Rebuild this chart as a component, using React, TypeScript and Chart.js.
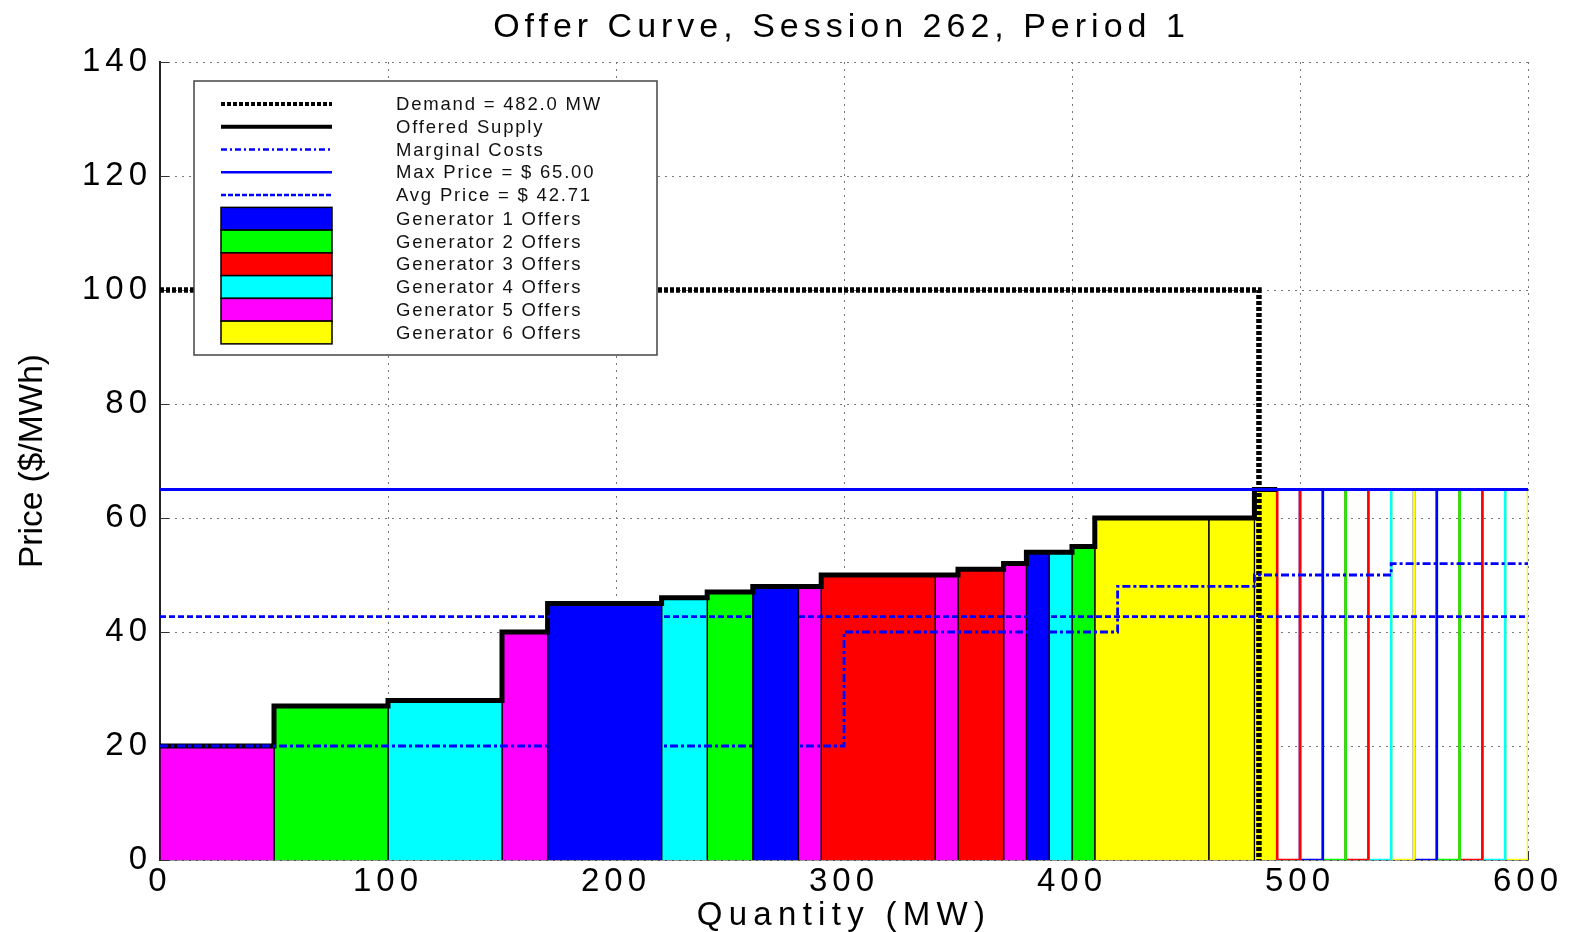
import React, { useEffect, useRef } from "react";
import { Chart, registerables } from "chart.js";

Chart.register(...registerables);

// ---------- text ----------
const TITLE = "Offer Curve, Session 262, Period 1";
const X_LABEL = "Quantity (MW)";
const Y_LABEL = "Price ($/MWh)";

// ---------- generators ----------
const GENERATOR_COLORS = ["#0000ff", "#00ff00", "#ff0000", "#00ffff", "#ff00ff", "#ffff00"];
const GENERATOR_LABELS = [
  "Generator 1 Offers",
  "Generator 2 Offers",
  "Generator 3 Offers",
  "Generator 4 Offers",
  "Generator 5 Offers",
  "Generator 6 Offers",
];

// ---------- offer blocks that make up the offered supply (MW, $/MWh, generator #) ----------
const offerStarts = [0, 50, 100, 150, 170, 220, 240, 260, 280, 290, 340, 350, 370, 380, 390, 400, 410, 460, 480];
const offerEnds = [50, 100, 150, 170, 220, 240, 260, 280, 290, 340, 350, 370, 380, 390, 400, 410, 460, 480, 490];
const offerPrices = [20, 27, 28, 40, 45, 46, 47, 48, 48, 50, 50, 51, 52, 54, 54, 55, 60, 60, 65];
const offerGenerators = [5, 2, 4, 5, 1, 4, 2, 1, 5, 3, 5, 3, 5, 1, 4, 2, 6, 6, 6];

// ---------- remaining offers, capped at the max price (drawn as outlines) ----------
const extraStarts = [490, 500, 510, 520, 530, 540, 550, 560, 570, 580, 590];
const extraEnds = [500, 510, 520, 530, 540, 550, 560, 570, 580, 590, 600];
const extraPrices = [65, 65, 65, 65, 65, 65, 65, 65, 65, 65, 65];
const extraGenerators = [3, 1, 2, 3, 4, 6, 1, 2, 3, 4, 6];

// ---------- marginal costs (step starts) ----------
const mcQuantities = [0, 300, 420, 480, 540, 600];
const mcPrices = [20, 40, 48, 50, 52, 52];

// ---------- reference lines ----------
const DEMAND_MW = 482.0;
const DEMAND_PRICE = 100;
const MAX_PRICE = 65.0;
const AVG_PRICE = 42.71;

// ---------- axes ----------
const X_MIN = 0;
const X_MAX = 600;
const X_STEP = 100;
const Y_MIN = 0;
const Y_MAX = 140;
const Y_STEP = 20;

const FONT = "'Liberation Sans', Arial, Helvetica, sans-serif";
const BLUE = "#0000ff";

const LEGEND_LINES = [
  { text: `Demand = ${DEMAND_MW.toFixed(1)} MW`, color: "#000", width: 4, dash: [4, 2] },
  { text: "Offered Supply", color: "#000", width: 4, dash: [] },
  { text: "Marginal Costs", color: BLUE, width: 2.5, dash: [6, 3, 2, 3] },
  { text: `Max Price = $ ${MAX_PRICE.toFixed(2)}`, color: BLUE, width: 2.5, dash: [] },
  { text: `Avg Price = $ ${AVG_PRICE.toFixed(2)}`, color: BLUE, width: 2.5, dash: [5, 2] },
];

function buildDatasets() {
  const datasets: any[] = [];
  const base = { pointRadius: 0, pointHoverRadius: 0, tension: 0 };

  offerStarts.forEach((s, i) => {
    const e = offerEnds[i];
    const p = offerPrices[i];
    datasets.push({
      ...base,
      label: `offer-${i}`,
      data: [
        { x: s, y: 0 },
        { x: s, y: p },
        { x: e, y: p },
        { x: e, y: 0 },
      ],
      backgroundColor: GENERATOR_COLORS[offerGenerators[i] - 1],
      borderColor: "#000",
      borderWidth: 1.3,
      fill: "origin",
      order: 10,
    });
  });

  extraStarts.forEach((s, i) => {
    const e = extraEnds[i];
    const p = extraPrices[i];
    datasets.push({
      ...base,
      label: `extra-${i}`,
      data: [
        { x: s, y: 0 },
        { x: s, y: p },
        { x: e, y: p },
        { x: e, y: 0 },
        { x: s, y: 0 },
      ],
      borderColor: GENERATOR_COLORS[extraGenerators[i] - 1],
      borderWidth: 2.6,
      fill: false,
      order: 9,
    });
  });

  datasets.push({
    ...base,
    label: "Demand",
    data: [
      { x: X_MIN, y: DEMAND_PRICE },
      { x: DEMAND_MW, y: DEMAND_PRICE },
      { x: DEMAND_MW, y: 0 },
    ],
    borderColor: "#000",
    borderWidth: 5.5,
    borderDash: [4, 2],
    fill: false,
    order: 5,
  });

  const supplyData = offerStarts.map((s, i) => ({ x: s, y: offerPrices[i] }));
  supplyData.push({ x: offerEnds[offerEnds.length - 1], y: offerPrices[offerPrices.length - 1] });
  datasets.push({
    ...base,
    label: "Offered Supply",
    data: supplyData,
    stepped: true,
    borderColor: "#000",
    borderWidth: 5,
    fill: false,
    order: 4,
  });

  datasets.push({
    ...base,
    label: "Marginal Costs",
    data: mcQuantities.map((q, i) => ({ x: q, y: mcPrices[i] })),
    stepped: true,
    borderColor: BLUE,
    borderWidth: 2.8,
    borderDash: [8, 3, 3, 3],
    fill: false,
    order: 3,
  });

  datasets.push({
    ...base,
    label: "Avg Price",
    data: [
      { x: X_MIN, y: AVG_PRICE },
      { x: X_MAX, y: AVG_PRICE },
    ],
    borderColor: BLUE,
    borderWidth: 2.8,
    borderDash: [6, 3],
    fill: false,
    order: 2,
  });

  datasets.push({
    ...base,
    label: "Max Price",
    data: [
      { x: X_MIN, y: MAX_PRICE },
      { x: X_MAX, y: MAX_PRICE },
    ],
    borderColor: BLUE,
    borderWidth: 3,
    fill: false,
    order: 1,
  });

  return datasets;
}

const spacingPlugin = {
  id: "tickSpacing",
  beforeDraw(chart: any) {
    (chart.ctx as any).letterSpacing = "5px";
  },
};

const innerTicksPlugin = {
  id: "innerTicks",
  beforeDatasetsDraw(chart: any) {
    const { ctx, chartArea, scales } = chart;
    ctx.save();
    ctx.strokeStyle = "#333";
    ctx.lineWidth = 1;
    ctx.setLineDash([]);
    scales.y.ticks.forEach((t: any) => {
      const py = Math.round(scales.y.getPixelForValue(t.value)) + 0.5;
      ctx.beginPath();
      ctx.moveTo(chartArea.left, py);
      ctx.lineTo(chartArea.left + 9, py);
      ctx.stroke();
    });
    scales.x.ticks.forEach((t: any) => {
      const px = Math.round(scales.x.getPixelForValue(t.value)) + 0.5;
      ctx.beginPath();
      ctx.moveTo(px, chartArea.bottom);
      ctx.lineTo(px, chartArea.bottom - 9);
      ctx.stroke();
    });
    ctx.restore();
  },
};

const annotationsPlugin = {
  id: "offerAnnotations",
  afterDatasetsDraw(chart: any) {
    const { ctx, chartArea } = chart;
    const c = ctx as any;
    ctx.save();

    // legend box
    const bx = chartArea.left + 34;
    const by = chartArea.top + 19;
    const bw = 463;
    const bh = 274;
    ctx.fillStyle = "#fff";
    ctx.fillRect(bx, by, bw, bh);
    ctx.strokeStyle = "#444";
    ctx.lineWidth = 1.5;
    ctx.setLineDash([]);
    ctx.strokeRect(bx, by, bw, bh);

    const sx0 = bx + 27;
    const sx1 = bx + 138;
    const tx = bx + 202;
    const rowH = 22.75;
    const row0 = by + 23;

    c.letterSpacing = "1.8px";
    ctx.font = `18.5px ${FONT}`;
    ctx.textAlign = "left";
    ctx.textBaseline = "middle";

    LEGEND_LINES.forEach((item, i) => {
      const cy = row0 + i * rowH;
      ctx.strokeStyle = item.color;
      ctx.lineWidth = item.width;
      ctx.setLineDash(item.dash);
      ctx.beginPath();
      ctx.moveTo(sx0, cy);
      ctx.lineTo(sx1, cy);
      ctx.stroke();
      ctx.fillStyle = "#111";
      ctx.fillText(item.text, tx, cy + 1);
    });

    ctx.setLineDash([]);
    GENERATOR_LABELS.forEach((label, k) => {
      const top = row0 + LEGEND_LINES.length * rowH - rowH / 2 + k * rowH + 1;
      ctx.fillStyle = GENERATOR_COLORS[k];
      ctx.fillRect(sx0, top, sx1 - sx0, rowH);
      ctx.strokeStyle = "#000";
      ctx.lineWidth = 1.5;
      ctx.strokeRect(sx0, top, sx1 - sx0, rowH);
      ctx.fillStyle = "#111";
      ctx.fillText(label, tx, top + rowH / 2 + 1);
    });

    ctx.restore();
  },
  afterDraw(chart: any) {
    const { ctx, chartArea } = chart;
    const c = ctx as any;
    const cx = (chartArea.left + chartArea.right) / 2;
    const cy = (chartArea.top + chartArea.bottom) / 2;
    ctx.save();
    ctx.fillStyle = "#000";
    ctx.textBaseline = "alphabetic";
    ctx.textAlign = "center";

    c.letterSpacing = "5px";
    ctx.font = `34px ${FONT}`;
    ctx.fillText(TITLE, cx - 5 + 2.5, 37);

    c.letterSpacing = "6.3px";
    ctx.font = `33px ${FONT}`;
    ctx.fillText(X_LABEL, cx - 3 + 3, 925);

    c.letterSpacing = "0px";
    ctx.font = `33.5px ${FONT}`;
    ctx.translate(42, cy);
    ctx.rotate(-Math.PI / 2);
    ctx.fillText(Y_LABEL, 0, 0);
    ctx.restore();
  },
};

export default function App() {
  const canvasRef = useRef<HTMLCanvasElement | null>(null);

  useEffect(() => {
    document.body.style.margin = "0";
    document.body.style.overflow = "hidden";
    const canvas = canvasRef.current;
    if (!canvas) return;

    const tickFont = { family: FONT, size: 33 };

    const chart = new Chart(canvas, {
      type: "line",
      data: { datasets: buildDatasets() },
      options: {
        responsive: false,
        devicePixelRatio: 1,
        animation: false,
        events: [],
        layout: { padding: { top: 62, right: 50, left: 0, bottom: 0 } },
        plugins: {
          legend: { display: false },
          tooltip: { enabled: false },
          title: { display: false },
        },
        scales: {
          x: {
            type: "linear",
            min: X_MIN,
            max: X_MAX,
            ticks: {
              stepSize: X_STEP,
              font: tickFont,
              color: "#000",
              padding: 2,
              maxRotation: 0,
              autoSkip: false,
            },
            grid: { color: "#777", lineWidth: 1, drawTicks: false },
            border: { display: true, color: "#333", width: 1.5, dash: [2, 5] },
            afterFit: (scale: any) => {
              scale.height = 72;
            },
          },
          y: {
            type: "linear",
            min: Y_MIN,
            max: Y_MAX,
            ticks: {
              stepSize: Y_STEP,
              font: tickFont,
              color: "#000",
              padding: 8,
              autoSkip: false,
            },
            grid: { color: "#777", lineWidth: 1, drawTicks: false },
            border: { display: true, color: "#222", width: 2, dash: [2, 5] },
            afterFit: (scale: any) => {
              scale.width = 160;
            },
          },
        },
      } as any,
      plugins: [spacingPlugin, innerTicksPlugin, annotationsPlugin],
    });

    return () => {
      chart.destroy();
    };
  }, []);

  return (
    <canvas
      ref={canvasRef}
      width={1578}
      height={932}
      style={{ display: "block", width: "1578px", height: "932px" }}
    />
  );
}
